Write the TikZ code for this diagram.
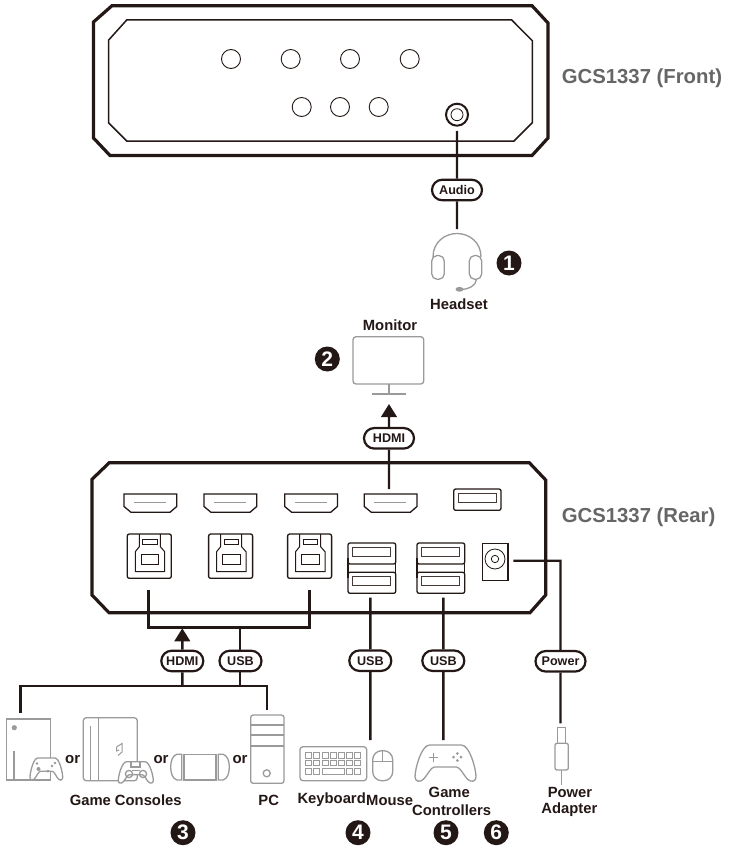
\documentclass[tikz,border=0pt]{standalone}
\usepackage{fontspec}
\setmainfont{Liberation Sans}
\usetikzlibrary{arrows.meta,shapes.misc}
\definecolor{ink}{HTML}{231815}
\definecolor{dev}{HTML}{9A9A9A}
\definecolor{titlegrey}{HTML}{666666}
\tikzset{
  pill/.style={rounded rectangle,draw=ink,fill=white,line width=2.2pt,minimum height=20.5pt,inner sep=0pt,text=ink,font=\bfseries\fontsize{12.6}{14}\selectfont},
  wire/.style={draw=ink,line width=2.4pt},
  arrowwire/.style={wire,-{Triangle[length=13pt,width=15.5pt]}},
  case/.style={draw=ink,line width=3.2pt,miter limit=10},
  panel/.style={draw=ink,line width=1.5pt},
  port/.style={draw=ink,line width=1.3pt},
  thin port/.style={draw=ink!85,line width=.8pt},
  devline/.style={draw=dev,line width=1.3pt},
  lamp/.style={circle,draw=ink,line width=.9pt,minimum size=19pt,inner sep=0pt},
  badge/.style={circle,fill=ink,minimum size=25pt,inner sep=0pt,text=white,font=\bfseries\fontsize{21}{22}\selectfont},
  lbl/.style={text=ink,inner sep=0pt,font=\bfseries\fontsize{15}{17}\selectfont},
  small lbl/.style={text=ink,inner sep=0pt,font=\bfseries\fontsize{14.8}{17}\selectfont},
  titlelbl/.style={text=titlegrey,inner sep=0pt,font=\bfseries\fontsize{20.3}{22}\selectfont},
  hdmiport/.pic={
    \draw[port] (0,0) -- (52.7,0) -- (52.7,12.5) -- (46,18.3) -- (7,18.3) -- (0,12.5) -- cycle;
    \draw[devline,line width=1pt] (10,8.7) -- (42,8.7);
  },
  usbb/.pic={
    \draw[port,rounded corners=2pt] (0,0) rectangle (44,44.3);
    \draw[port,line width=1pt] (12,0) -- (12,12.7) -- (8,17.7) -- (8,37.7) -- (37.4,37.7) -- (37.4,17.7) -- (33,12.7) -- (33,0);
    \draw[port,line width=1pt] (15.4,5) rectangle (30,10);
    \draw[port,line width=1pt] (14,20) rectangle (31.4,30.3);
  },
  usbpair/.pic={
    \draw[port,rounded corners=2pt] (0,0) rectangle (47.7,21);
    \draw[port,rounded corners=2pt] (0,29.3) rectangle (47.7,50.3);
    \draw[port] (0,15) -- (0,35) (47.7,15) -- (47.7,35);
    \draw[thin port] (4.7,4.3) rectangle (42.7,13.7);
    \draw[thin port] (4.7,33) rectangle (42.7,42.3);
  },
  gamepad/.pic={
    \draw[devline,fill=white] (24,0) -- (76,0) .. controls (90,0) and (100,40) .. (100,52) .. controls (100,60) and (92,62) .. (86,56) .. controls (80,50) and (74,36) .. (68,36) -- (32,36) .. controls (26,36) and (20,50) .. (14,56) .. controls (8,62) and (0,60) .. (0,52) .. controls (0,40) and (10,0) .. (24,0) -- cycle;
  }
}
\begin{document}
\begin{tikzpicture}[x=1pt,y=-1pt]
\useasboundingbox (0,0) rectangle (728,848);
\fill[white] (0,0) rectangle (728,848);

% ---------- front unit
\draw[case] (112,5.7) -- (532,5.7) -- (548,23) -- (548,138) -- (532,155.5) -- (110,155.5) -- (93.5,138) -- (93.5,22) -- cycle;
\draw[panel] (126.7,20) -- (511.7,20) -- (532.3,40.7) -- (532.3,122.7) -- (514,141) -- (126.7,141) -- (108.7,123) -- (108.7,40) -- cycle;
\node[lamp] (f1) at (231,59) {};
\node[lamp] (f2) at (290.7,59) {};
\node[lamp] (f3) at (350,59) {};
\node[lamp] (f4) at (409.7,59) {};
\node[lamp] (f5) at (301.7,107) {};
\node[lamp] (f6) at (340,107) {};
\node[lamp] (f7) at (378.7,107) {};
\node[circle,draw=ink,line width=2pt,minimum size=22pt,inner sep=0pt] (jack) at (457,114.7) {};
\node[circle,draw=ink,line width=.8pt,minimum size=12pt,inner sep=0pt] (jackin) at (457,114.7) {};
\node[titlelbl,anchor=west] (ftitle) at (561.7,78) {GCS1337 (Front)};

% ---------- audio
\coordinate (audiostart) at (457,131);
\coordinate (headtop) at (457,229);
\node[pill,minimum width=50pt] (paudio) at (457,190) {Audio};
\draw[wire] (audiostart) -- (paudio);
\draw[wire] (paudio) -- (headtop);
\draw[devline] (433,257) .. controls (433,242) and (445,233.5) .. (457,233.5) .. controls (469,233.5) and (481,242) .. (481,257);
\draw[devline,rounded corners=5.5pt] (431.7,255.5) rectangle (444.3,279.3);
\draw[devline,rounded corners=5.5pt] (469.3,255.5) rectangle (481.7,279.3);
\draw[devline] (476.5,279.3) .. controls (476,286) and (468,289.5) .. (461,289.5);
\fill[dev] (459.5,289.3) ellipse [x radius=4pt,y radius=2.4pt];
\node[badge] (n1) at (509,263) {1};
\node[small lbl] (headset) at (459,304) {Headset};

% ---------- monitor
\node[small lbl] (monlbl) at (390,325) {Monitor};
\draw[devline,rounded corners=3pt] (353,336.7) rectangle (423.7,384);
\draw[devline] (389,384) -- (389,394) (372.3,394) -- (405.7,394);
\node[badge] (n2) at (327.3,359) {2};
\coordinate (hdmistart) at (389,489);
\coordinate (montip) at (389,404);
\node[pill,minimum width=50pt] (phdmi) at (389,438.3) {HDMI};
\draw[wire] (hdmistart) -- (phdmi);
\draw[arrowwire] (phdmi) -- (montip);

% ---------- rear unit
\draw[case] (109.3,462.7) -- (529.3,462.7) -- (545.7,480) -- (545.7,595) -- (530,612.7) -- (109,612.7) -- (92,595) -- (92,479.3) -- cycle;
\pic at (124,494) {hdmiport};
\pic at (204,494) {hdmiport};
\pic at (284.7,494) {hdmiport};
\pic at (364.3,494) {hdmiport};
\draw[port,rounded corners=2pt] (453.7,489) rectangle (501,510.3);
\draw[thin port] (458.7,493.7) rectangle (496.3,502.7);
\pic at (127.3,534) {usbb};
\pic at (208.6,534) {usbb};
\pic at (287.6,534) {usbb};
\pic at (348,543) {usbpair};
\pic at (417,543) {usbpair};
\draw[port] (482.3,543.7) rectangle (508,580.3);
\node[circle,draw=ink,line width=.8pt,minimum size=20pt,inner sep=0pt] (dc) at (495,559) {};
\node[circle,draw=ink,line width=.8pt,minimum size=7.4pt,inner sep=0pt] (dcin) at (495,559) {};
\node[titlelbl,anchor=west] (rtitle) at (561.7,517.3) {GCS1337 (Rear)};

% ---------- USB-B / HDMI hub
\coordinate (ba) at (148.3,590);
\coordinate (bb) at (309.3,590);
\coordinate (busl) at (148.3,627.3);
\coordinate (busr) at (309.3,627.3);
\coordinate (arrowtip) at (182.3,628.3);
\coordinate (usbjoin) at (240,627.3);
\coordinate (lowl) at (20.3,686);
\coordinate (lowr) at (267,686);
\coordinate (lowhd) at (182.3,686);
\coordinate (lowus) at (240,686);
\coordinate (lowlend) at (20.3,713.3);
\coordinate (lowrend) at (267,710);
\node[pill,minimum width=42pt] (phd2) at (182.3,661) {HDMI};
\node[pill,minimum width=42pt] (pus2) at (240.5,661) {USB};
\draw[wire,line join=miter] (ba) -- (busl) -- (busr) -- (bb);
\draw[wire] (usbjoin) -- (pus2.north -| usbjoin);
\draw[wire] (pus2.south -| usbjoin) -- (lowus);
\draw[arrowwire] (phd2) -- (arrowtip);
\draw[wire] (phd2) -- (lowhd);
\draw[wire,line join=miter] (lowlend) -- (lowl) -- (lowr) -- (lowrend);

% ---------- consoles
\draw[devline] (6.7,719) rectangle (50.7,780);
\fill[dev] (14.3,727.7) circle [radius=2.6pt];
\draw[devline] (14,750.7) -- (14,780);
\pic[xscale=.327,yscale=.37] at (30,758) {gamepad};
\fill[dev] (38.5,769) circle [radius=2pt] (48,771) circle [radius=1.5pt] (37,763.5) circle [radius=1.3pt] (52,766) circle [radius=1.3pt] (55,763) circle [radius=1.3pt];
\node[lbl] (or1) at (72.7,760) {or};

\draw[devline,rounded corners=3pt] (83.3,717.7) rectangle (137.3,780.7);
\draw[devline,rounded corners=3pt] (98.3,717.7) -- (98.3,780.7);
\draw[devline] (90.7,726) -- (90.7,780.7);
\draw[devline,line width=1pt] (116.5,747) -- (122,743.5) -- (122,752) -- (118,755.5) (116.5,747) -- (116.5,751) -- (119,750);
\pic[xscale=.35,yscale=.36] at (118.3,761.7) {gamepad};
\draw[devline] (131,761.7) rectangle (140,767);
\draw[devline] (129,774) circle [radius=3.6pt] (143,774) circle [radius=3.6pt];
\draw[devline] (132,770.5) -- (140,770.5);
\node[lbl] (or2) at (161,760) {or};

\draw[devline] (181.8,754.3) -- (177,754.3) .. controls (172.5,755.5) and (170.7,761) .. (170.7,767) .. controls (170.7,773) and (172.5,778.8) .. (177,780) -- (181.8,780) -- cycle;
\draw[devline] (184,754.3) rectangle (216,780);
\draw[devline] (218.2,754.3) -- (223,754.3) .. controls (227.5,755.5) and (229.3,761) .. (229.3,767) .. controls (229.3,773) and (227.5,778.8) .. (223,780) -- (218.2,780) -- cycle;
\node[lbl] (or3) at (240,760) {or};

\draw[devline,rounded corners=2.5pt] (250.7,715) rectangle (284,783.3);
\draw[devline] (250.7,725) -- (284,725) (250.7,735) -- (284,735) (250.7,746) -- (284,746);
\node[circle,draw=dev,line width=1.3pt,minimum size=7pt,inner sep=0pt] (pcbtn) at (266.7,773.3) {};
\node[small lbl] (gclbl) at (125.7,800) {Game Consoles};
\node[small lbl] (pclbl) at (268.7,800) {PC};
\node[badge] (n3) at (183,832.7) {3};

% ---------- keyboard, mouse
\coordinate (kbstart) at (370.3,597.7);
\coordinate (kbend) at (370.3,740);
\node[pill,minimum width=42pt] (pkb) at (370.3,660.7) {USB};
\draw[wire] (kbstart) -- (pkb);
\draw[wire] (pkb) -- (kbend);
\draw[devline,rounded corners=3pt] (300,746.7) rectangle (366.7,780.7);
\foreach \xk in {0,...,6}{
  \draw[devline,line width=1pt] ({305.7+8.2*\xk},752.5) rectangle ++(6,5.5);
  \draw[devline,line width=1pt] ({305.7+8.2*\xk},760.3) rectangle ++(6,5.5);
}
\foreach \xk in {0,1,5,6}{
  \draw[devline,line width=1pt] ({305.7+8.2*\xk},768.5) rectangle ++(6,5.5);
}
\draw[devline,line width=1pt] (322.6,768.5) rectangle (344.6,774);
\draw[devline,rounded corners=9pt] (372.7,750.7) rectangle (392.7,780.7);
\draw[devline] (372.7,761.7) -- (392.7,761.7) (382.7,750.7) -- (382.7,761.7);
\node[small lbl,anchor=east] (kblbl) at (366,800) {Keyboard};
\node[small lbl,anchor=west] (mslbl) at (366,800) {Mouse};
\node[badge] (n4) at (358,832.7) {4};

% ---------- game controller
\coordinate (gcstart) at (443.3,597.7);
\coordinate (gcend) at (443.3,740);
\node[pill,minimum width=42pt] (pgc) at (443.3,660.7) {USB};
\draw[wire] (gcstart) -- (pgc);
\draw[wire] (pgc) -- (gcend);
\pic[xscale=.61,yscale=.61] at (415,745) {gamepad};
\draw[devline] (428.5,757.3) -- (438,757.3) (433.3,752.5) -- (433.3,762);
\fill[dev] (457.3,753.5) circle [radius=1.5pt] (457.3,760.5) circle [radius=1.5pt] (453.5,757) circle [radius=1.5pt] (461,757) circle [radius=1.5pt];
\node[small lbl] (gclbl1) at (449.3,792) {Game};
\node[small lbl] (gclbl2) at (451.7,810) {Controllers};
\node[badge] (n5) at (446,832.7) {5};

% ---------- power
\coordinate (pwstart) at (513.3,560.7);
\coordinate (pwbend) at (560.5,560.7);
\coordinate (pwend) at (560.5,723.3);
\node[pill,minimum width=50pt] (ppw) at (560.5,661.3) {Power};
\draw[wire,line join=miter] (pwstart) -- (pwbend) -- (ppw);
\draw[wire] (ppw) -- (pwend);
\draw[devline] (557.7,727.3) rectangle (565.3,743.3);
\draw[devline,rounded corners=2pt] (555,743.3) rectangle (568.3,770);
\draw[devline] (561.4,770) -- (561.4,785);
\node[small lbl] (pwlbl1) at (570,792) {Power};
\node[small lbl] (pwlbl2) at (569.3,810) {Adapter};
\node[badge] (n6) at (496.3,832.7) {6};
\end{tikzpicture}
\end{document}
